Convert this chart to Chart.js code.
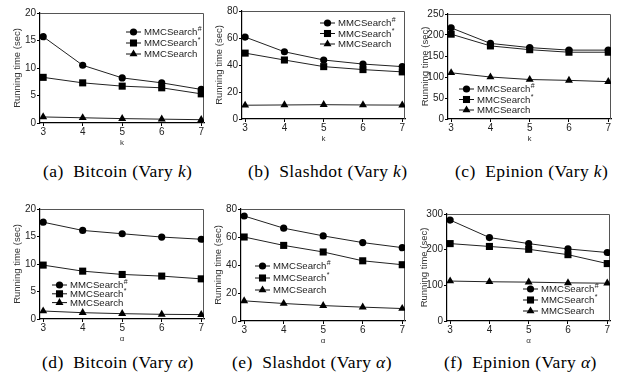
<!DOCTYPE html>
<html>
<head>
<meta charset="utf-8">
<script src="https://cdn.jsdelivr.net/npm/chart.js@4.4.1/dist/chart.umd.min.js"></script>
<style>
  body { margin: 0; background: #fff; width: 622px; height: 392px; position: relative; overflow: hidden; }
  canvas { position: absolute; }
  .cap { position: absolute; font-family: "Liberation Serif", serif; font-size: 17.5px; letter-spacing: 0.4px; color: #000; white-space: nowrap; }
  .cap i { font-style: italic; }
</style>
</head>
<body>
<script>
// x values (k and alpha share 3..7)
const kValues = [3, 4, 5, 6, 7];
const alphaValues = [3, 4, 5, 6, 7];
const seriesNames = ['MMCSearch#', 'MMCSearch*', 'MMCSearch'];

// (a) Bitcoin, vary k
const bitcoinKSharp = [15.7, 10.5, 8.2, 7.3, 6.1];
const bitcoinKStar  = [8.3, 7.3, 6.7, 6.4, 5.3];
const bitcoinKBase  = [1.1, 0.95, 0.8, 0.7, 0.6];
// (b) Slashdot, vary k
const slashdotKSharp = [60.7, 49.8, 43.7, 40.7, 38.8];
const slashdotKStar  = [48.8, 43.7, 38.8, 36.6, 34.9];
const slashdotKBase  = [10.2, 10.4, 10.6, 10.4, 10.3];
// (c) Epinion, vary k
const epinionKSharp = [217, 180, 170, 164, 164];
const epinionKStar  = [202, 174, 165, 159, 159];
const epinionKBase  = [110, 100, 94, 92, 89];
// (d) Bitcoin, vary alpha
const bitcoinASharp = [17.6, 16.1, 15.5, 14.9, 14.5];
const bitcoinAStar  = [9.8, 8.7, 8.1, 7.8, 7.3];
const bitcoinABase  = [1.45, 1.15, 0.97, 0.85, 0.8];
// (e) Slashdot, vary alpha
const slashdotASharp = [75, 66.3, 60.8, 56, 52.4];
const slashdotAStar  = [60, 54, 49.3, 43, 40.2];
const slashdotABase  = [14.4, 12.5, 11, 9.9, 8.9];
// (f) Epinion, vary alpha
const epinionASharp = [283, 234, 217, 202, 192];
const epinionAStar  = [217, 209, 201, 186, 161];
const epinionABase  = [112, 110, 109, 107, 106];

const yMax = [20, 80, 250, 20, 80, 300];
const yStep = [5, 20, 50, 5, 20, 100];

const panels = [
  { x: kValues, xTitle: 'k', series: [bitcoinKSharp, bitcoinKStar, bitcoinKBase] },
  { x: kValues, xTitle: 'k', series: [slashdotKSharp, slashdotKStar, slashdotKBase] },
  { x: kValues, xTitle: 'k', series: [epinionKSharp, epinionKStar, epinionKBase] },
  { x: alphaValues, xTitle: 'α', series: [bitcoinASharp, bitcoinAStar, bitcoinABase] },
  { x: alphaValues, xTitle: 'α', series: [slashdotASharp, slashdotAStar, slashdotABase] },
  { x: alphaValues, xTitle: 'α', series: [epinionASharp, epinionAStar, epinionABase] }
];

// layout: plot boxes in page pixels, legend offsets inside the plot
const boxes = [
  { l: 40, r: 204, t: 13, b: 123, lx: 86, ly: 19, lg: 11 },
  { l: 242, r: 405, t: 11, b: 119, lx: 78, ly: 12, lg: 10.5 },
  { l: 448, r: 611, t: 14, b: 119, lx: 11, ly: 75, lg: 10.5 },
  { l: 40, r: 204, t: 209, b: 319, lx: 12, ly: 76, lg: 8.8 },
  { l: 241, r: 405, t: 209, b: 321, lx: 14, ly: 57, lg: 12 },
  { l: 447, r: 610, t: 214, b: 321, lx: 76, ly: 75, lg: 11 }
];
const captions = [
  { x: 43, y: 161, html: '(a)&nbsp; Bitcoin (Vary <i>k</i>)' },
  { x: 248, y: 161, html: '(b)&nbsp; Slashdot (Vary <i>k</i>)' },
  { x: 455, y: 161, html: '(c)&nbsp; Epinion (Vary <i>k</i>)' },
  { x: 42, y: 352, html: '(d)&nbsp; Bitcoin (Vary <i>α</i>)' },
  { x: 232, y: 352, html: '(e)&nbsp; Slashdot (Vary <i>α</i>)' },
  { x: 444, y: 352, html: '(f)&nbsp; Epinion (Vary <i>α</i>)' }
];

const markers = ['circle', 'rect', 'triangle'];
const markerRadius = [3.6, 5, 4.6];
const FONT = 'Liberation Sans, Arial, sans-serif';
const Y_AXIS_W = 40, PAD_T = 10, PAD_R = 6, X_AXIS_H = 26;

function drawMarker(ctx, style, x, y, r) {
  ctx.beginPath();
  if (style === 'circle') {
    ctx.arc(x, y, r, 0, Math.PI * 2);
  } else if (style === 'rect') {
    const s = Math.SQRT1_2 * r;
    ctx.rect(x - s, y - s, 2 * s, 2 * s);
  } else {
    ctx.moveTo(x, y - r);
    ctx.lineTo(x + r * 0.866, y + r * 0.5);
    ctx.lineTo(x - r * 0.866, y + r * 0.5);
    ctx.closePath();
  }
  ctx.fill();
}

const framePlugin = {
  id: 'frame',
  beforeDatasetsDraw(chart) {
    const { ctx, chartArea: a } = chart;
    ctx.save();
    ctx.strokeStyle = '#555';
    ctx.lineWidth = 1;
    ctx.beginPath();
    ctx.moveTo(a.left, a.top + 0.5);
    ctx.lineTo(a.right - 0.5, a.top + 0.5);
    ctx.lineTo(a.right - 0.5, a.bottom);
    ctx.stroke();
    ctx.restore();
  }
};

const legendPlugin = {
  id: 'boxLegend',
  afterDatasetsDraw(chart, args, opts) {
    const { ctx, chartArea: a } = chart;
    ctx.save();
    chart.data.datasets.forEach((ds, i) => {
      const x = a.left + opts.dx;
      const y = a.top + opts.dy + i * opts.gap;
      ctx.strokeStyle = '#111';
      ctx.lineWidth = 1;
      ctx.beginPath();
      ctx.moveTo(x, y);
      ctx.lineTo(x + 15, y);
      ctx.stroke();
      ctx.fillStyle = '#000';
      drawMarker(ctx, ds.pointStyle, x + 7.5, y, ds.pointRadius);
      let label = ds.label, sup = '';
      if (label.endsWith('#') || label.endsWith('*')) { sup = label.slice(-1); label = label.slice(0, -1); }
      ctx.fillStyle = '#222';
      ctx.font = '9.6px ' + FONT;
      ctx.textBaseline = 'middle';
      ctx.textAlign = 'left';
      ctx.fillText(label, x + 18, y + 0.5);
      if (sup) {
        const w = ctx.measureText(label).width;
        ctx.font = '7px ' + FONT;
        ctx.fillText(sup, x + 18.5 + w, y - 2.5);
      }
    });
    ctx.restore();
  }
};

captions.forEach(c => {
  const d = document.createElement('div');
  d.className = 'cap';
  d.style.left = c.x + 'px';
  d.style.top = c.y + 'px';
  d.innerHTML = c.html;
  document.body.appendChild(d);
});

panels.forEach((p, idx) => {
  const b = boxes[idx];
  const cv = document.createElement('canvas');
  const w = (b.r - b.l) + Y_AXIS_W + PAD_R;
  const h = (b.b - b.t) + PAD_T + X_AXIS_H;
  cv.width = w; cv.height = h;
  cv.style.left = (b.l - Y_AXIS_W) + 'px';
  cv.style.top = (b.t - PAD_T) + 'px';
  document.body.appendChild(cv);

  new Chart(cv, {
    type: 'line',
    data: {
      datasets: p.series.map((vals, i) => ({
        label: seriesNames[i],
        data: p.x.map((xv, j) => ({ x: xv, y: vals[j] })),
        borderColor: '#222',
        backgroundColor: '#000',
        borderWidth: 1,
        pointStyle: markers[i],
        pointRadius: markerRadius[i],
        pointBackgroundColor: '#000',
        pointBorderColor: '#000',
        pointBorderWidth: 0,
        tension: 0
      }))
    },
    options: {
      responsive: false,
      animation: false,
      devicePixelRatio: 1,
      layout: { padding: { top: PAD_T, right: PAD_R, left: 0, bottom: 0 } },
      plugins: {
        legend: { display: false },
        tooltip: { enabled: false },
        boxLegend: { dx: b.lx, dy: b.ly, gap: b.lg }
      },
      scales: {
        x: {
          type: 'linear',
          min: 2.92,
          max: 7.07,
          afterBuildTicks: s => { s.ticks = p.x.map(v => ({ value: v })); },
          afterFit: s => { s.height = X_AXIS_H; },
          border: { display: true, color: '#000', width: 1.2 },
          grid: { drawOnChartArea: false, drawTicks: true, tickLength: 3, color: '#000' },
          ticks: { color: '#222', padding: 0, font: { family: FONT, size: 10 }, maxRotation: 0 },
          title: { display: true, text: p.xTitle, color: '#333', font: { family: FONT, size: 8 }, padding: { top: 0, bottom: 1 } }
        },
        y: {
          min: 0,
          max: yMax[idx],
          afterBuildTicks: s => {
            const t = [];
            for (let v = 0; v <= yMax[idx]; v += yStep[idx]) t.push({ value: v });
            s.ticks = t;
          },
          afterFit: s => { s.width = Y_AXIS_W; },
          border: { display: true, color: '#000', width: 1.2 },
          grid: { drawOnChartArea: false, drawTicks: true, tickLength: 3, color: '#000' },
          ticks: { color: '#222', padding: 1, font: { family: FONT, size: 10 } },
          title: { display: true, text: 'Running time (sec)', color: '#333', font: { family: FONT, size: 9.5 }, padding: { top: 12, bottom: 0 } }
        }
      }
    },
    plugins: [framePlugin, legendPlugin]
  });
});
</script>
</body>
</html>
